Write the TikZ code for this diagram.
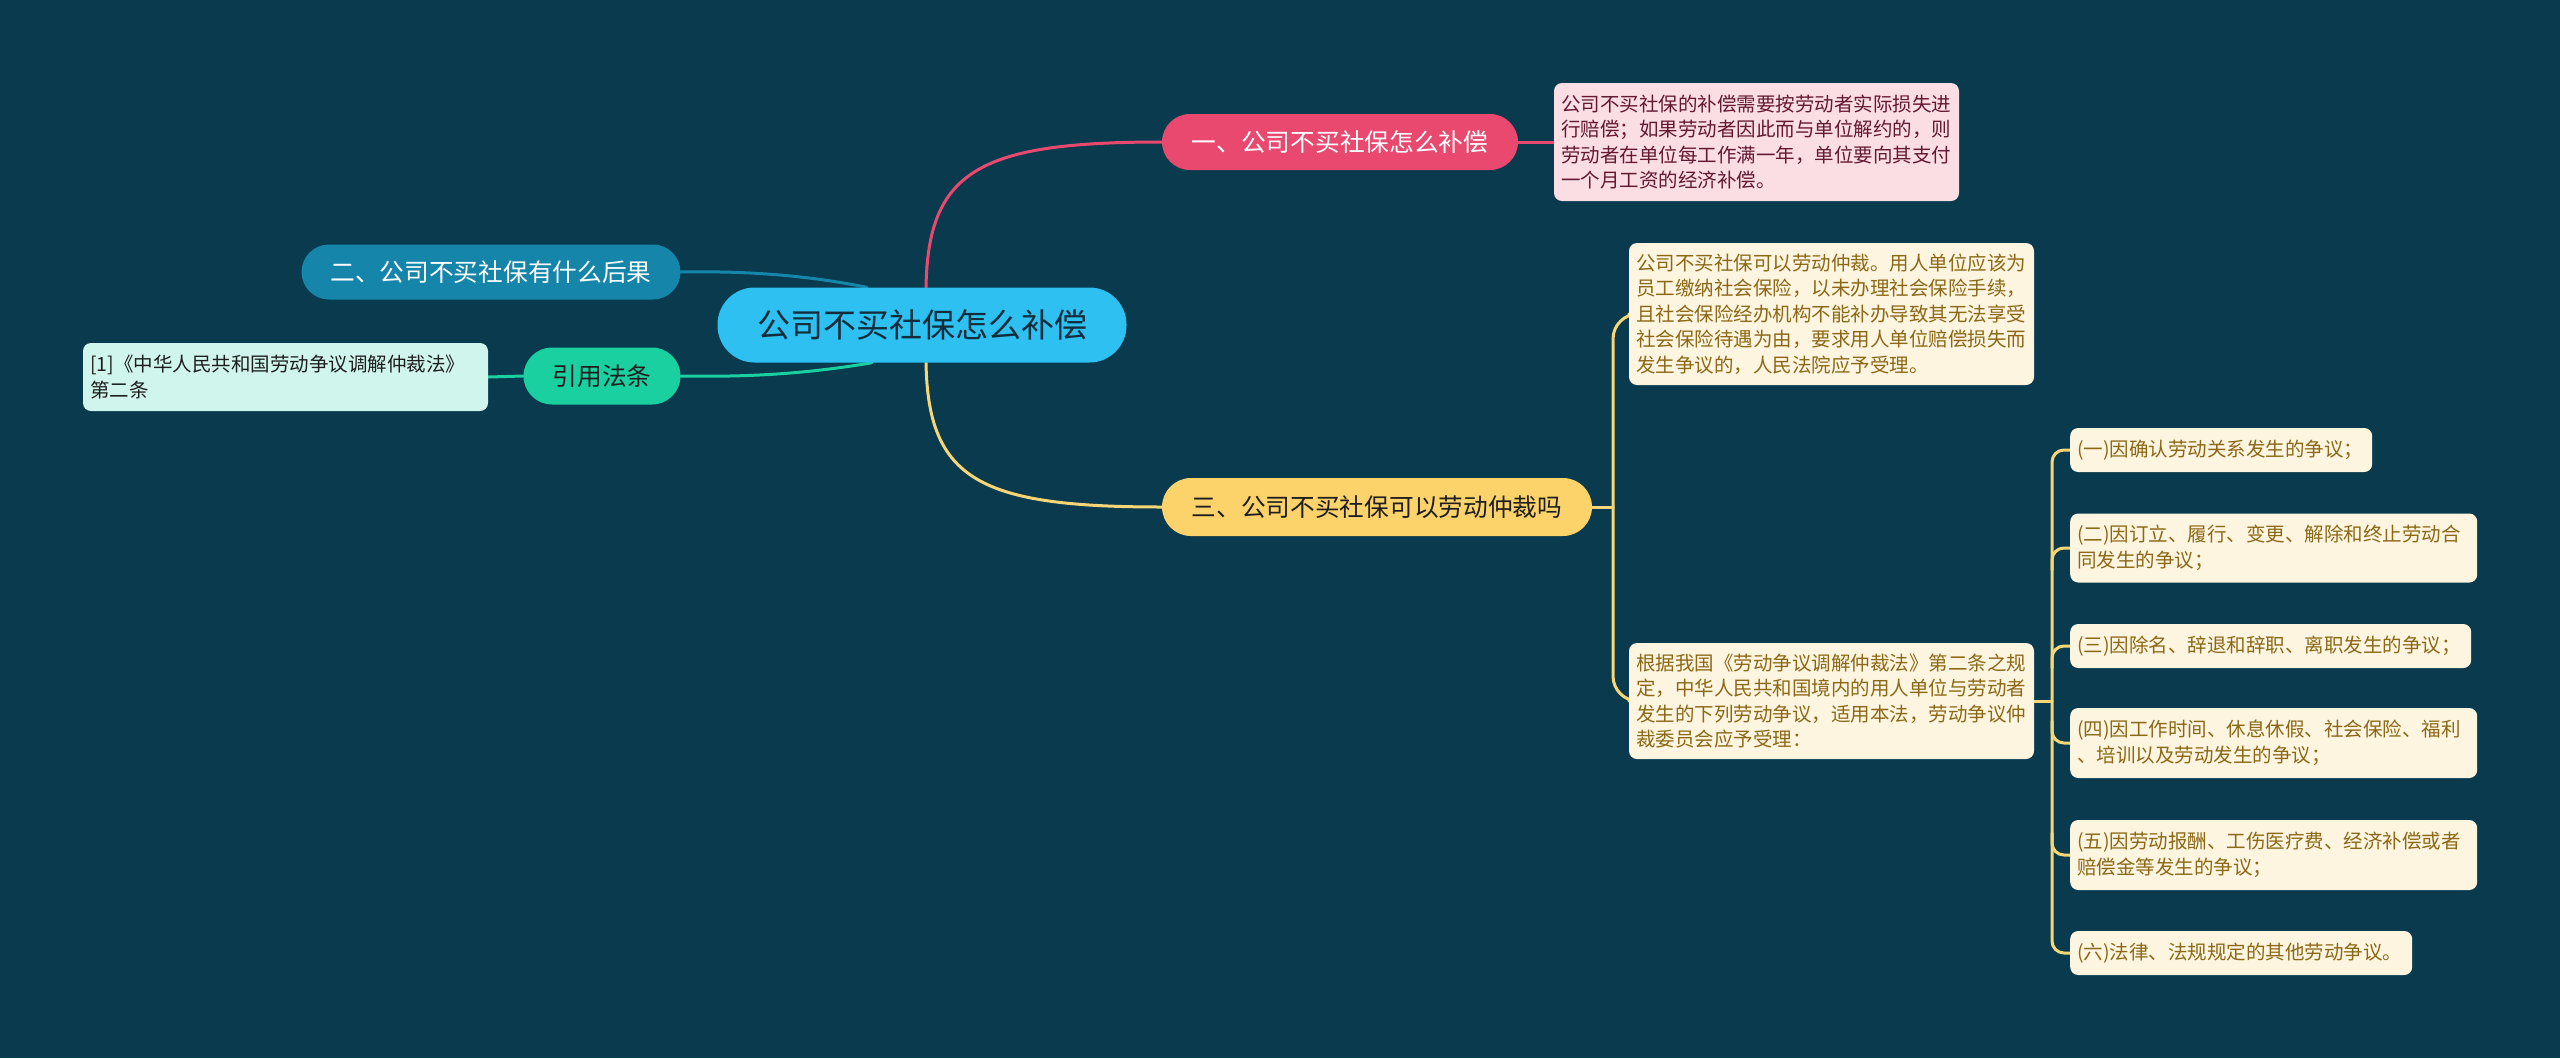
\documentclass[tikz,border=0pt]{standalone}
\usepackage{fontspec}
\setmainfont{Noto Sans CJK SC}
\definecolor{bgc}{RGB}{9,58,78}
\definecolor{rootc}{RGB}{45,192,240}
\definecolor{roott}{RGB}{20,45,60}
\definecolor{pinkc}{RGB}{233,73,111}
\definecolor{bluec}{RGB}{22,133,170}
\definecolor{greenc}{RGB}{26,208,160}
\definecolor{yelc}{RGB}{252,210,106}
\definecolor{ylinec}{RGB}{246,214,118}
\definecolor{pinkleaf}{RGB}{251,221,228}
\definecolor{pinktext}{RGB}{100,25,50}
\definecolor{mintleaf}{RGB}{208,245,236}
\definecolor{creamleaf}{RGB}{253,245,224}
\definecolor{browntext}{RGB}{140,104,22}
\definecolor{darktext}{RGB}{30,30,30}
\pgfdeclarelayer{back}
\pgfsetlayers{back,main}
\begin{document}
\begin{tikzpicture}[x=1pt,y=-1pt,
  pill/.style={rectangle, inner sep=0, align=center, font=\fontsize{24.7}{30}\selectfont},
  leaf/.style={rectangle, rounded corners=8, inner xsep=7, inner ysep=0, align=left, font=\fontsize{19.5}{25.5}\selectfont},
  sub/.style={leaf, fill=creamleaf, text=browntext, anchor=west},
  conn/.style={line width=3, line cap=round},
  yconn/.style={conn, draw=ylinec}
]
\useasboundingbox (0,0) rectangle (2560,1058);

% nodes
\node[pill, fill=rootc, text=roott, minimum width=409, minimum height=75, rounded corners=37,
  font=\fontsize{33}{40}\selectfont] (root) at (922,325) {公司不买社保怎么补偿};
\node[pill, fill=pinkc, text=white, minimum width=356, minimum height=56, rounded corners=28] (br1) at (1340,142) {一、公司不买社保怎么补偿};
\node[pill, fill=bluec, text=white, minimum width=379, minimum height=55, rounded corners=27.5] (br2) at (491,272) {二、公司不买社保有什么后果};
\node[pill, fill=greenc, text=darktext, minimum width=157, minimum height=57, rounded corners=28.5] (cite) at (602,376) {引用法条};
\node[pill, fill=yelc, text=darktext, minimum width=430, minimum height=58, rounded corners=29] (br3) at (1377,507) {三、公司不买社保可以劳动仲裁吗};

\node[leaf, fill=pinkleaf, text=pinktext, text width=391, minimum height=118] (leaf1) at (1756.5,142) {公司不买社保的补偿需要按劳动者实际损失进\\行赔偿；如果劳动者因此而与单位解约的，则\\劳动者在单位每工作满一年，单位要向其支付\\一个月工资的经济补偿。};
\node[leaf, fill=mintleaf, text=darktext, text width=391, minimum height=68] (citeleaf) at (285.5,377) {[1]《中华人民共和国劳动争议调解仲裁法》\\第二条};
\node[leaf, fill=creamleaf, text=browntext, text width=391, minimum height=142] (leaf3a) at (1831.5,314) {公司不买社保可以劳动仲裁。用人单位应该为\\员工缴纳社会保险，以未办理社会保险手续，\\且社会保险经办机构不能补办导致其无法享受\\社会保险待遇为由，要求用人单位赔偿损失而\\发生争议的，人民法院应予受理。};
\node[leaf, fill=creamleaf, text=browntext, text width=391, minimum height=116] (leaf3b) at (1831.5,701) {根据我国《劳动争议调解仲裁法》第二条之规\\定，中华人民共和国境内的用人单位与劳动者\\发生的下列劳动争议，适用本法，劳动争议仲\\裁委员会应予受理：};

\node[sub, text width=288, minimum height=44] (s1) at (2070,450) {(一)因确认劳动关系发生的争议；};
\node[sub, text width=393, minimum height=69] (s2) at (2070,548) {(二)因订立、履行、变更、解除和终止劳动合\\同发生的争议；};
\node[sub, text width=387, minimum height=44] (s3) at (2070,646) {(三)因除名、辞退和辞职、离职发生的争议；};
\node[sub, text width=393, minimum height=70] (s4) at (2070,743) {(四)因工作时间、休息休假、社会保险、福利\\、培训以及劳动发生的争议；};
\node[sub, text width=393, minimum height=70] (s5) at (2070,855) {(五)因劳动报酬、工伤医疗费、经济补偿或者\\赔偿金等发生的争议；};
\node[sub, text width=328, minimum height=44] (s6) at (2070,953) {(六)法律、法规规定的其他劳动争议。};

\begin{pgfonlayer}{back}
\fill[bgc] (0,0) rectangle (2560,1058);
% root to branches
\draw[conn, draw=pinkc] ([xshift=4pt]root.north) .. controls (928,170) and (980,142) .. (br1.west);
\draw[conn, draw=ylinec] ([xshift=4pt]root.south) .. controls (928,480) and (980,507) .. (br3.west);
\draw[conn, draw=bluec] ([xshift=-55pt]root.north) .. controls (800,274) and (740,271) .. (br2.east);
\draw[conn, draw=greenc] ([xshift=-50pt]root.south) .. controls (800,375) and (740,377) .. (cite.east);
% to leaves
\draw[conn, draw=pinkc] (br1.east) -- (leaf1.west);
\draw[conn, draw=greenc] (cite.west) -- (citeleaf.east);
\draw[yconn] (br3.east) -- (1613,507);
\draw[yconn, rounded corners=25] (leaf3a.west) -- (1613,314) -- (1613,701) -- (leaf3b.west);
% sub items
\draw[yconn] (leaf3b.east) -- (2052,701);
\draw[yconn, rounded corners=12] (s1.west) -- (2052,450) -- (2052,953) -- (s6.west);
\draw[yconn, rounded corners=12] (2052,570) -- (2052,548) -- (s2.west);
\draw[yconn, rounded corners=12] (2052,668) -- (2052,646) -- (s3.west);
\draw[yconn, rounded corners=12] (2052,721) -- (2052,743) -- (s4.west);
\draw[yconn, rounded corners=12] (2052,833) -- (2052,855) -- (s5.west);
\end{pgfonlayer}
\end{tikzpicture}
\end{document}
